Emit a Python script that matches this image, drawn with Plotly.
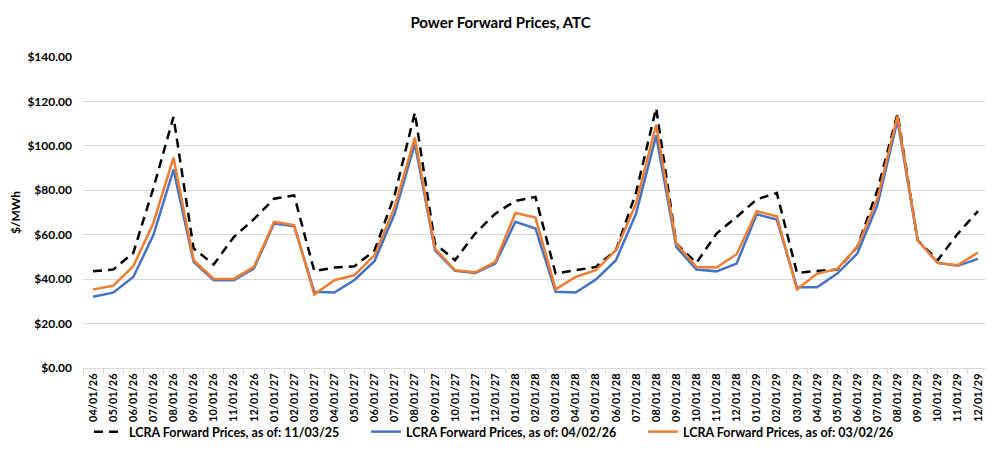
import plotly.graph_objects as go

months = [
    "04/01/26", "05/01/26", "06/01/26", "07/01/26", "08/01/26", "09/01/26",
    "10/01/26", "11/01/26", "12/01/26", "01/01/27", "02/01/27", "03/01/27",
    "04/01/27", "05/01/27", "06/01/27", "07/01/27", "08/01/27", "09/01/27",
    "10/01/27", "11/01/27", "12/01/27", "01/01/28", "02/01/28", "03/01/28",
    "04/01/28", "05/01/28", "06/01/28", "07/01/28", "08/01/28", "09/01/28",
    "10/01/28", "11/01/28", "12/01/28", "01/01/29", "02/01/29", "03/01/29",
    "04/01/29", "05/01/29", "06/01/29", "07/01/29", "08/01/29", "09/01/29",
    "10/01/29", "11/01/29", "12/01/29",
]

# LCRA forward prices, as of 11/03/25
prices_nov25 = [
    43.6, 44.3, 51.8, 81.0, 113.0, 53.8, 46.6, 59.0, 67.0, 76.2, 77.7, 43.6,
    45.2, 45.8, 53.0, 78.0, 114.9, 56.0, 48.5, 60.5, 69.5, 75.2, 77.0, 42.5,
    44.0, 45.5, 53.0, 79.0, 117.0, 56.0, 47.3, 60.5, 68.0, 75.9, 78.8, 42.8,
    43.7, 44.3, 54.5, 80.0, 114.5, 57.5, 48.5, 60.5, 70.6,
]

# LCRA forward prices, as of 04/02/26
prices_apr26 = [
    32.1, 33.9, 41.0, 59.8, 89.3, 47.8, 39.5, 39.5, 44.8, 65.0, 63.8, 34.3,
    34.0, 39.6, 48.2, 69.5, 101.0, 53.0, 43.7, 42.8, 47.0, 65.8, 62.8, 34.3,
    34.0, 39.8, 48.5, 69.5, 104.7, 54.5, 44.3, 43.5, 47.0, 69.2, 66.8, 36.3,
    36.3, 42.5, 51.5, 73.3, 111.5, 57.5, 47.3, 46.0, 49.1,
]

# LCRA forward prices, as of 03/02/26
prices_mar26 = [
    35.4, 37.0, 45.8, 65.3, 94.7, 48.5, 40.1, 40.1, 45.5, 65.8, 64.3, 33.1,
    39.5, 41.8, 50.8, 72.5, 103.7, 53.8, 44.0, 43.1, 47.8, 69.8, 67.7, 35.4,
    41.0, 44.0, 53.0, 74.0, 109.5, 56.0, 45.5, 45.2, 51.2, 70.6, 68.3, 35.4,
    42.5, 44.5, 54.5, 76.2, 113.5, 57.5, 47.3, 46.3, 52.0,
]

series = [
    ("LCRA Forward Prices, as of: 11/03/25", prices_nov25, "#000000", "9px,6px"),
    ("LCRA Forward Prices, as of: 04/02/26", prices_apr26, "#4472C4", "solid"),
    ("LCRA Forward Prices, as of: 03/02/26", prices_mar26, "#ED7D31", "solid"),
]

FONT = "Lato, Calibri, Arial, sans-serif"

fig = go.Figure()
for name, values, color, dash in series:
    fig.add_trace(
        go.Scatter(
            x=months,
            y=values,
            mode="lines",
            name=name,
            line={"color": color, "width": 2.5, "dash": dash},
        )
    )

# the page body adds an 8px offset, so the figure is sized/margined to compensate
fig.update_layout(
    title={
        "text": "<b>Power Forward Prices, ATC</b>",
        "x": 0.5,
        "xanchor": "center",
        "xref": "container",
        "y": 1 - 15 / 458,
        "yanchor": "middle",
        "font": {"size": 15, "color": "#000000", "family": FONT},
    },
    width=985,
    height=458,
    paper_bgcolor="#ffffff",
    plot_bgcolor="#ffffff",
    font={"family": FONT, "color": "#000000", "size": 12},
    margin={"l": 75, "r": 5, "t": 49, "b": 98, "autoexpand": False},
    showlegend=True,
    legend={
        "orientation": "h",
        "xref": "container",
        "x": 0.5 + 4 / 985,
        "xanchor": "center",
        "yref": "container",
        "y": 1 - 424 / 458,
        "yanchor": "middle",
        "bgcolor": "rgba(0,0,0,0)",
        "font": {"size": 12.5, "family": FONT, "color": "#000000", "weight": "bold"},
        "itemwidth": 30,
        "entrywidth": 232,
        "tracegroupgap": 0,
    },
    xaxis={
        "type": "category",
        "range": [-0.5, len(months) - 0.5],
        "tickangle": -90,
        "tickfont": {"size": 11, "family": FONT, "weight": "bold"},
        "showgrid": False,
        "showline": True,
        "linecolor": "#d9d9d9",
        "linewidth": 1,
        "ticks": "outside",
        "tickson": "boundaries",
        "ticklen": 5,
        "tickcolor": "#d9d9d9",
        "ticklabeloverflow": "allow",
    },
    yaxis={
        "range": [0, 140],
        "dtick": 20,
        "tickprefix": "$",
        "tickformat": ",.2f",
        "tickfont": {"size": 12, "family": FONT, "weight": "bold"},
        "showgrid": True,
        "gridcolor": "#d9d9d9",
        "gridwidth": 1,
        "zeroline": False,
        "showline": False,
        "ticks": "",
        "ticklabelstandoff": 10,
        "title": {
            "text": "<b>$/MWh</b>",
            "font": {"size": 12, "family": FONT},
            "standoff": 10,
        },
    },
)

fig.write_html("out.html")
